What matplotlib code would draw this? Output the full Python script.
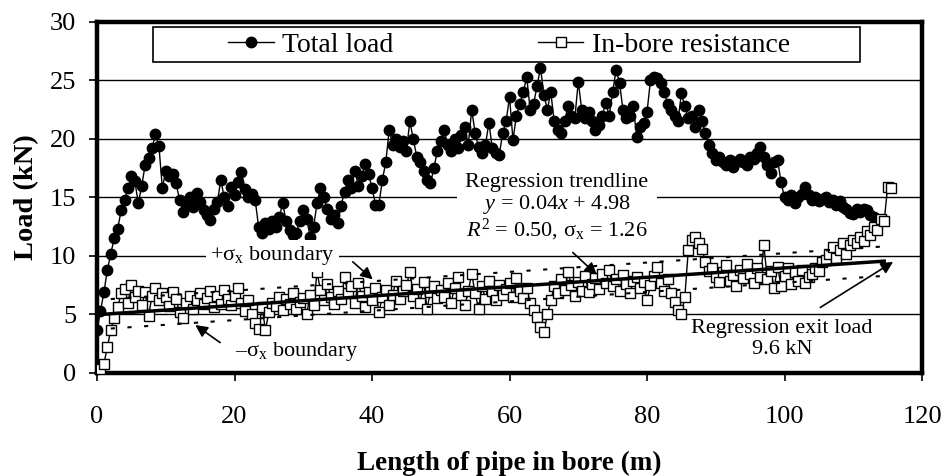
import numpy as np
import matplotlib.pyplot as plt
from matplotlib.patches import Rectangle

plt.rcParams['font.family'] = ['Liberation Serif', 'DejaVu Serif']
plt.rcParams['mathtext.fontset'] = 'custom'
plt.rcParams['mathtext.rm'] = 'Liberation Serif'
plt.rcParams['mathtext.it'] = 'Liberation Serif:italic'
plt.rcParams['mathtext.bf'] = 'Liberation Serif:bold'

# readings every 0.5 m of pipe in bore
step = 0.5

total_load = [
    3.7, 5.3, 6.9, 8.8, 10.2, 11.5, 12.3, 13.9, 14.8, 15.8,
    16.8, 16.4, 14.5, 16.0, 17.8, 18.4, 19.2, 20.4, 19.4, 15.8,
    17.3, 16.8, 17.0, 16.2, 14.8, 13.8, 14.5, 15.0, 14.2, 15.4,
    14.6, 13.9, 13.5, 13.1, 14.0, 14.6, 16.5, 15.0, 14.3, 15.9,
    15.2, 16.3, 17.2, 15.7, 15.0, 15.3, 14.8, 12.5, 12.0, 12.8,
    12.3, 13.0, 12.5, 13.3, 14.5, 13.0, 12.2, 11.8, 12.0, 13.0,
    13.9, 13.2, 11.6, 12.5, 14.5, 15.8, 15.0, 14.0, 13.2, 13.5,
    12.8, 14.3, 15.5, 16.5, 15.8, 17.3, 16.0, 16.8, 17.9, 17.0,
    15.8, 14.4, 14.4, 16.5, 18.0, 20.8, 19.5, 20.0, 19.3, 19.8,
    19.0, 21.5, 20.0, 18.5, 18.0, 17.3, 16.5, 16.2, 17.5, 19.0,
    19.8, 20.8, 19.5, 19.0, 20.0, 19.2, 20.3, 21.0, 19.5, 22.5,
    20.5, 19.3, 18.8, 19.5, 21.4, 19.2, 18.8, 18.6, 20.5, 21.5,
    23.6, 19.9, 22.0, 23.0, 24.0, 25.3, 22.5, 23.0, 24.5, 26.1,
    23.8, 22.5, 24.0, 21.5, 20.8, 20.5, 21.5, 22.8, 22.0, 21.8,
    24.9, 22.5, 21.8, 22.3, 21.5, 20.8, 21.2, 22.0, 23.1, 22.0,
    24.0, 25.9, 24.8, 22.5, 21.8, 22.0, 22.8, 20.2, 21.0, 21.4,
    22.3, 25.0, 25.3, 25.2, 24.8, 24.0, 23.0, 22.5, 22.0, 21.5,
    23.9, 22.8, 21.8, 22.0, 21.0, 22.5, 21.5, 20.5, 19.5, 18.8,
    18.2, 18.5, 18.0, 17.8, 18.2, 17.6, 18.0, 18.3, 18.0, 17.8,
    18.5, 18.3, 18.8, 19.3, 18.5, 17.8, 17.1, 18.0, 18.2, 16.3,
    15.0, 14.8, 15.2, 14.5, 15.0, 15.3, 15.9, 15.2, 14.8, 15.0,
    14.7, 14.9, 15.0, 14.6, 14.8, 14.4, 14.7, 14.2, 14.0, 13.7,
    13.6, 14.0, 13.8, 14.0, 13.9, 13.5, 13.3, 13.1,
]

inbore = [
    0.0, 0.3, 0.8, 2.2, 3.7, 4.7,
    5.6, 6.8, 7.2, 6.0, 7.5, 6.5, 7.0, 5.8, 6.9, 4.9, 6.6, 7.3, 6.2, 6.8,
    6.5, 5.7, 6.9, 6.3, 5.2, 4.7, 6.0, 6.6, 5.5, 6.2,
    6.8, 5.9, 6.4, 7.0, 5.6, 6.6, 5.9, 7.1, 6.3, 5.8,
    6.6, 7.3, 6.0, 5.3, 6.2, 5.0, 4.3, 3.8, 5.6, 3.7,
    5.2, 6.0, 5.7, 6.5, 5.4, 6.3, 5.9, 6.8, 5.5, 6.1,
    6.4, 5.0, 6.7, 5.8, 8.6, 7.1, 6.2, 7.6, 6.5, 5.9,
    7.0, 6.3, 8.2, 6.8, 7.4, 6.0, 7.7, 6.6, 5.6, 6.9,
    6.2, 7.3, 5.2, 6.5, 7.1, 5.8, 6.7, 7.9, 6.3, 7.0,
    7.5, 8.6, 6.6, 7.2, 6.0, 7.8, 5.5, 6.9, 7.4, 6.4,
    7.1, 6.5, 7.7, 6.0, 7.3, 8.2, 6.7, 5.8, 7.0, 8.5,
    6.8, 5.5, 7.4, 6.3, 7.9, 7.0, 6.2, 7.5, 6.7, 7.2,
    7.7, 6.5, 8.1, 7.0, 6.4, 7.3, 6.0, 5.4, 4.8, 3.9,
    3.5, 5.0, 6.2, 7.4, 6.8, 8.0, 7.1, 8.6, 7.5, 6.6,
    7.8, 7.0, 8.3, 6.9, 7.6, 8.1, 7.2, 8.5, 7.7, 8.8,
    7.4, 8.0, 7.0, 8.4, 7.6, 6.8, 7.9, 8.2, 7.3, 7.8,
    6.2, 7.5, 8.3, 9.1, 7.7, 7.0, 8.0, 6.8, 6.1, 5.4,
    5.0, 6.5, 10.5, 11.4, 11.6, 11.1, 10.6, 9.5, 8.7, 9.0,
    8.2, 7.8, 8.6, 9.2, 7.9, 8.4, 7.4, 8.8, 8.1, 9.3,
    8.5, 7.7, 9.0, 8.2, 10.9, 8.0, 8.7, 7.3, 9.1, 7.4,
    8.3, 9.0, 7.6, 8.6, 7.9, 8.8, 7.7, 8.2, 8.5, 9.0,
    8.7, 9.5, 9.7, 10.2, 10.8, 9.8, 10.5, 11.1, 10.2, 10.9,
    11.4, 11.1, 11.6, 11.3, 12.1, 11.8, 12.5, 12.2, 13.2, 13.0,
    15.9, 15.8,
]

length_total = np.arange(len(total_load)) * step
length_inbore = np.arange(len(inbore)) * step

# regression of in-bore resistance
slope = 0.04
intercept = 4.98
sigma = 1.26
trend_x = np.array([1.0, 114.5])
bound_x = np.array([2.0, 115.5])

fig = plt.figure(figsize=(9.44, 4.76), dpi=100)
ax = fig.add_axes([0.1028, 0.2164, 0.8739, 0.7374])

ax.plot(length_total, total_load, '-o', color='k', lw=1, ms=7.5, zorder=3,
        label='Total load')
ax.plot(length_inbore, inbore, '-s', color='k', mfc='white', mec='k',
        ms=7, mew=1, lw=1, zorder=4, label='In-bore resistance')

ax.plot(trend_x, slope * trend_x + intercept, color='k', lw=2.5, zorder=5)
ax.plot(bound_x, slope * bound_x + intercept + sigma, color='k', lw=1.5,
        ls=(0, (2, 6)), zorder=5)
ax.plot(bound_x, slope * bound_x + intercept - sigma, color='k', lw=1.5,
        ls=(0, (2, 6)), zorder=5)

ax.set_xlim(0, 120)
ax.set_ylim(0, 30)
ax.set_xticks(np.arange(0, 121, 20))
ax.set_yticks(np.arange(0, 31, 5))
ax.yaxis.grid(True, color='k', lw=1.0)
ax.set_axisbelow(True)
for s in ax.spines.values():
    s.set_linewidth(3.2)
ax.tick_params(axis='x', direction='out', length=6, width=1.2, pad=18,
               labelsize=19)
ax.tick_params(axis='y', direction='out', length=6, width=1.2, pad=9,
               labelsize=19)
ax.set_xlabel('Length of pipe in bore (m)', fontsize=19.5, fontweight='bold',
              labelpad=16)
ax.set_ylabel('Load (kN)', fontsize=20.5, fontweight='bold', labelpad=8)

# legend box
ax.add_patch(Rectangle((8.15, 26.6), 102.9, 2.95, facecolor='white',
                       edgecolor='k', lw=1.2, zorder=6))
ax.legend(loc='center', bbox_to_anchor=(59.9, 28.05),
          bbox_transform=ax.transData, ncol=2, frameon=False, fontsize=20,
          handlelength=1.65, handletextpad=0.3, columnspacing=5.2,
          borderpad=0, borderaxespad=0).set_zorder(7)

white = dict(facecolor='white', edgecolor='none', pad=3)
ax.text(66.9, 14.1,
        'Regression trendline\n$y$ = 0.04$x$ + 4.98\n'
        '$R^2$ = 0.50, \u03c3$_\\mathrm{x}$ = 1.26',
        ha='center', va='center', multialignment='center', fontsize=16,
        linespacing=1.05, bbox=dict(facecolor='white', edgecolor='none',
                                    pad=6), zorder=8)
ax.text(16.5, 10.0, '+\u03c3$_\\mathrm{x}$ boundary', ha='left',
        va='center', fontsize=16, bbox=white, zorder=8)
ax.text(20.1, 1.8, '\u2013\u03c3$_\\mathrm{x}$ boundary', ha='left',
        va='center', fontsize=16, zorder=8)
ax.text(99.6, 2.9, 'Regression exit load\n9.6 kN', ha='center',
        va='center', multialignment='center', fontsize=16, linespacing=1.2,
        zorder=8)

arrow = dict(arrowstyle='-|>', color='k', lw=1.2, mutation_scale=18,
             shrinkA=0, shrinkB=0)
ax.annotate('', xy=(72.7, 8.4), xytext=(69.2, 10.3), arrowprops=arrow,
            zorder=8)
ax.annotate('', xy=(40.1, 8.0), xytext=(37.2, 9.5), arrowprops=arrow,
            zorder=8)
ax.annotate('', xy=(14.3, 4.1), xytext=(17.9, 2.6), arrowprops=arrow,
            zorder=8)
ax.annotate('', xy=(115.8, 9.5), xytext=(105.2, 5.6), arrowprops=arrow,
            zorder=8)

fig.savefig('out.png', dpi=100)
